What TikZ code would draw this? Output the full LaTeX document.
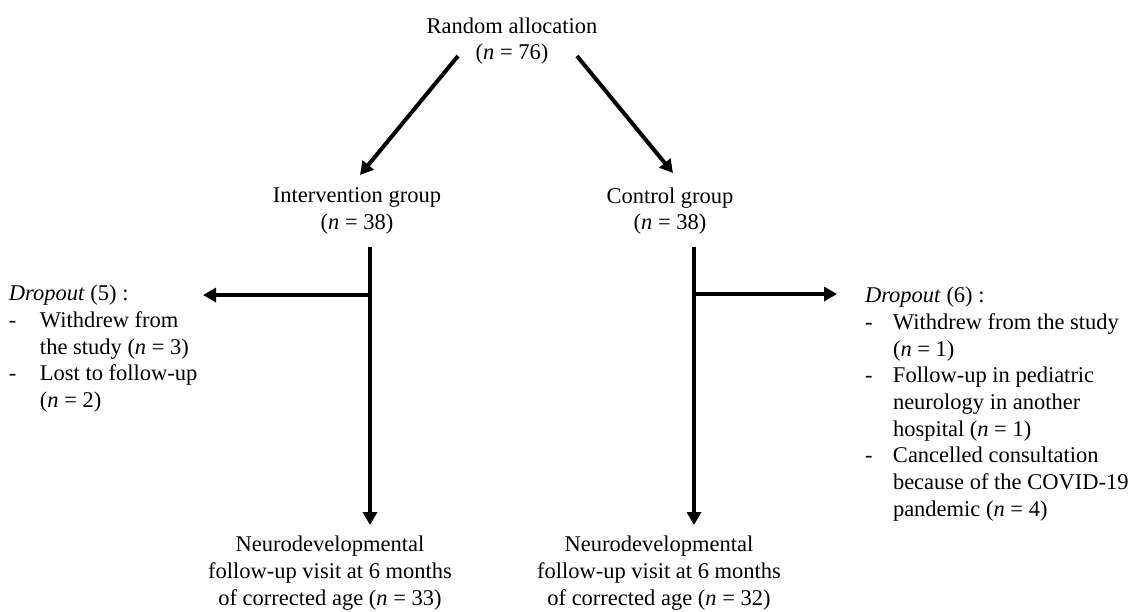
\documentclass[tikz,border=0pt]{standalone}
\usepackage{fontspec}
\setmainfont{Liberation Serif}
\usetikzlibrary{arrows.meta}
\begin{document}
\begin{tikzpicture}[x=1pt,y=-1pt,
  txt/.style={inner sep=0pt, outer sep=0pt, font=\fontsize{22.5}{26.7}\selectfont},
  ctr/.style={txt, align=center},
  lft/.style={txt, align=left, anchor=north west},
  arr/.style={line width=4pt, -{Triangle[length=13pt,width=14pt]}},
  ln/.style={line width=4pt}]
\useasboundingbox[fill=white] (0,0) rectangle (1133,611);

\node[ctr] (rand) at (512,41) {Random allocation\\(\textit{n} = 76)};
\node[ctr] (int) at (357,211) {Intervention group\\(\textit{n} = 38)};
\node[ctr] (ctl) at (670,211) {Control group\\(\textit{n} = 38)};
\node[ctr] (fl) at (330,573) {Neurodevelopmental\\follow-up visit at 6 months\\of corrected age (\textit{n} = 33)};
\node[ctr] (fr) at (659,573) {Neurodevelopmental\\follow-up visit at 6 months\\of corrected age (\textit{n} = 32)};

\node[lft] (dl) at (9,285) {\textit{Dropout} (5) :\\
\makebox[31pt][l]{-}Withdrew from\\
\hspace*{31pt}the study (\textit{n} = 3)\\
\makebox[31pt][l]{-}Lost to follow-up\\
\hspace*{31pt}(\textit{n} = 2)};

\node[lft] (dr) at (865,287) {\textit{Dropout} (6) :\\
\makebox[28pt][l]{-}Withdrew from the study\\
\hspace*{28pt}(\textit{n} = 1)\\
\makebox[28pt][l]{-}Follow-up in pediatric\\
\hspace*{28pt}neurology in another\\
\hspace*{28pt}hospital (\textit{n} = 1)\\
\makebox[28pt][l]{-}Cancelled consultation\\
\hspace*{28pt}because of the COVID-19\\
\hspace*{28pt}pandemic (\textit{n} = 4)};

% connector end points
\coordinate (ra) at (458,56);
\coordinate (rb) at (577,56);
\coordinate (ia) at (360,175);
\coordinate (ca) at (673,173);
\coordinate (iv) at (370,247);
\coordinate (cv) at (694,247);
\coordinate (ij) at (370,295);
\coordinate (cj) at (694,294);
\coordinate (dla) at (203,295);
\coordinate (dra) at (837,294);
\coordinate (fla) at (370,525);
\coordinate (fra) at (694,525);

\draw[arr] (ra) -- (ia);
\draw[arr] (rb) -- (ca);
\draw[arr] (iv) -- (fla);
\draw[arr] (cv) -- (fra);
\draw[arr] (ij) -- (dla);
\draw[arr] (cj) -- (dra);
\end{tikzpicture}
\end{document}
